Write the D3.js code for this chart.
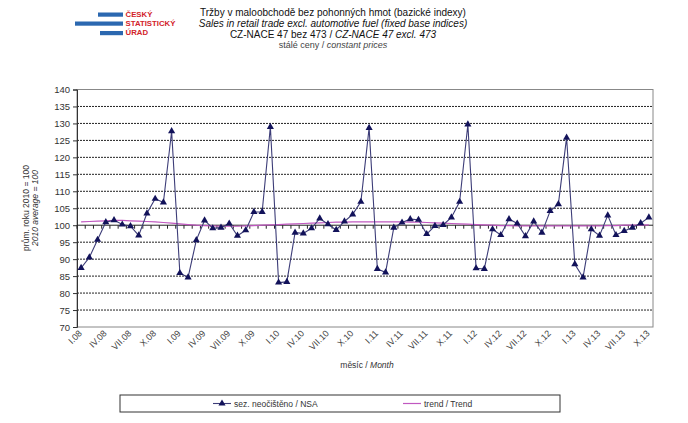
<!DOCTYPE html>
<html><head><meta charset="utf-8">
<script src="https://cdn.jsdelivr.net/npm/d3@7"></script>
<style>body{margin:0;background:#fff}svg{display:block;font-family:Arial,"Liberation Sans",sans-serif}</style>
</head><body><svg id="c" width="688" height="423"></svg>
<script>
const years = ["08","09","10","11","12","13"];
const romans = ["I","II","III","IV","V","VI","VII","VIII","IX","X","XI","XII"];
const months = [];
years.forEach(y => romans.forEach(r => months.push(r + "." + y)));
months.length = 70; // I.08 .. X.13
const tickLabels = months.filter((m, i) => i % 3 === 0);
const yTicks = [70,75,80,85,90,95,100,105,110,115,120,125,130,135,140];
const nsa = [
 87.4, 90.5, 95.7, 100.9, 101.5, 100.2, 99.7, 97.0, 103.5, 107.8, 106.7, 127.7,
 85.9, 84.6, 95.6, 101.4, 99.1, 99.3, 100.5, 96.9, 98.5, 103.9, 103.9, 129.0,
 83.1, 83.3, 97.8, 97.6, 99.1, 102.0, 100.3, 98.6, 101.1, 103.2, 106.9, 128.7,
 87.1, 86.1, 99.3, 100.8, 101.8, 101.6, 97.4, 99.8, 100.1, 102.3, 106.9, 129.7,
 87.3, 87.1, 98.8, 97.1, 101.8, 100.5, 96.8, 101.1, 97.8, 104.2, 106.2, 125.8,
 88.5, 84.6, 98.8, 96.9, 102.9, 97.1, 98.3, 99.3, 100.6, 102.3
];
const trend = [
 101.0, 101.1, 101.2, 101.3, 101.4, 101.4, 101.3, 101.2, 101.1, 101.0, 100.8, 100.6,
 100.4, 100.2, 100.0, 99.9, 99.8, 99.7, 99.7, 99.7, 99.8, 99.9, 100.0, 100.1,
 100.2, 100.3, 100.4, 100.5, 100.6, 100.7, 100.8, 100.9, 100.9, 101.0, 101.0, 101.0,
 101.0, 101.0, 101.0, 101.0, 100.9, 100.9, 100.8, 100.7, 100.6, 100.5, 100.4, 100.3,
 100.2, 100.1, 100.0, 99.9, 99.9, 99.8, 99.8, 99.8, 99.8, 99.8, 99.8, 99.8,
 99.8, 99.8, 99.8, 99.8, 99.9, 99.9, 100.0, 100.0, 100.0, 100.1
];

const svg = d3.select("#c");
const L = 77, R = 653, T = 89.5, B = 327;
const x = d3.scaleBand().domain(months).range([L, R]);
const y = d3.scaleLinear().domain([70, 140]).range([B, T]);
const cx = m => x(m) + x.bandwidth() / 2;

// Logo
const logo = svg.append("g");
[[98,12.5,25],[75,21.5,48],[100,31,23]].forEach(b =>
  logo.append("rect").attr("x", b[0]).attr("y", b[1]).attr("width", b[2]).attr("height", 4.2).attr("fill", "#2b68b0"));
["ČESKÝ","STATISTICKÝ","ÚRAD"].forEach((t, i) =>
  logo.append("text").attr("x", 125.5).attr("y", 17 + i * 9.2).attr("font-size", 7.8).attr("font-weight", "bold")
    .attr("fill", "#d2232a").text(t));

// Titles
const tg = svg.append("g").attr("text-anchor", "middle").attr("fill", "#111");
tg.append("text").attr("x", 333).attr("y", 15.5).attr("font-size", 10).text("Tržby v maloobchodě bez pohonných  hmot (bazické indexy)");
tg.append("text").attr("x", 333).attr("y", 26.5).attr("font-size", 10).attr("font-style", "italic").text("Sales in retail trade excl. automotive fuel (fixed base indices)");
const t3 = tg.append("text").attr("x", 333).attr("y", 37.5).attr("font-size", 10);
t3.append("tspan").text("CZ-NACE 47 bez 473 / ");
t3.append("tspan").attr("font-style", "italic").text("CZ-NACE 47 excl. 473");
const t4 = tg.append("text").attr("x", 333).attr("y", 47.5).attr("font-size", 9).attr("fill", "#444");
t4.append("tspan").text("stálé ceny / ");
t4.append("tspan").attr("font-style", "italic").text("constant  prices");

// Grid (dotted)
svg.append("g").selectAll("line").data(yTicks.filter(v => v > 70 && v < 140 && v !== 100)).join("line")
  .attr("x1", L).attr("x2", R).attr("y1", d => y(d)).attr("y2", d => y(d))
  .attr("stroke", "#222").attr("stroke-width", 1).attr("stroke-dasharray", "2,1");

// Plot border
svg.append("rect").attr("x", L).attr("y", T).attr("width", R - L).attr("height", B - T)
  .attr("fill", "none").attr("stroke", "#888").attr("stroke-width", 1);

// Y axis
const ya = svg.append("g").attr("transform", `translate(${L},0)`)
  .call(d3.axisLeft(y).tickValues(yTicks).tickSize(4).tickPadding(3));
ya.select(".domain").attr("stroke", "#333");
ya.selectAll(".tick line").attr("stroke", "#333");
ya.selectAll("text").attr("font-size", 9.5).attr("fill", "#333").attr("font-family", "Arial, 'Liberation Sans', sans-serif");

// X axis crossing at 100 (ticks between categories)
const xa = svg.append("g").attr("transform", `translate(0,${y(100)})`);
xa.append("line").attr("x1", L).attr("x2", R).attr("stroke", "#222").attr("stroke-width", 1);
xa.selectAll("line.tk").data(months).join("line").attr("class", "tk")
  .attr("x1", d => x(d)).attr("x2", d => x(d)).attr("y1", 0).attr("y2", 3.5).attr("stroke", "#222");

// X tick labels at bottom, rotated
svg.append("g").selectAll("text").data(tickLabels).join("text")
  .attr("transform", d => `translate(${cx(d) + 1.5},${B + 7}) rotate(-45)`)
  .attr("text-anchor", "end").attr("font-size", 9).attr("fill", "#444").text(d => d);

// Axis titles
const xt = svg.append("text").attr("x", 367).attr("y", 368).attr("text-anchor", "middle").attr("font-size", 8.5).attr("fill", "#333");
xt.append("tspan").text("měsíc / ");
xt.append("tspan").attr("font-style", "italic").text("Month");
const yt = svg.append("g").attr("transform", "translate(29,208) rotate(-90)").attr("text-anchor", "middle").attr("fill", "#333").attr("font-size", 8.5);
yt.append("text").attr("y", 0).text("prům. roku 2010 = 100");
yt.append("text").attr("y", 9).attr("font-style", "italic").text("2010 average = 100");

// Lines
const line = d3.line().x((d, i) => cx(months[i])).y(d => y(d));
svg.append("path").datum(trend).attr("d", line).attr("fill", "none").attr("stroke", "#c058c0").attr("stroke-width", 1.2);
svg.append("path").datum(nsa).attr("d", line).attr("fill", "none").attr("stroke", "#3d3d78").attr("stroke-width", 1.1);
const tri = d3.symbol().type(d3.symbolTriangle).size(22);
svg.append("g").selectAll("path").data(nsa).join("path")
  .attr("d", tri).attr("transform", (d, i) => `translate(${cx(months[i])},${y(d)})`).attr("fill", "#12125a");

// Legend
const lg = svg.append("g");
lg.append("rect").attr("x", 120).attr("y", 395).attr("width", 440).attr("height", 17).attr("fill", "#fff").attr("stroke", "#333").attr("stroke-width", 1);
lg.append("line").attr("x1", 213).attr("x2", 231).attr("y1", 403.5).attr("y2", 403.5).attr("stroke", "#3d3d78").attr("stroke-width", 1.1);
lg.append("path").attr("d", tri).attr("transform", "translate(222,403.5)").attr("fill", "#12125a");
lg.append("text").attr("x", 234).attr("y", 406.5).attr("font-size", 8.5).attr("fill", "#333").text("sez. neočištěno / NSA");
lg.append("line").attr("x1", 403).attr("x2", 421).attr("y1", 403.5).attr("y2", 403.5).attr("stroke", "#c058c0").attr("stroke-width", 1.2);
lg.append("text").attr("x", 424).attr("y", 406.5).attr("font-size", 8.5).attr("fill", "#333").text("trend / Trend");
</script></body></html>
